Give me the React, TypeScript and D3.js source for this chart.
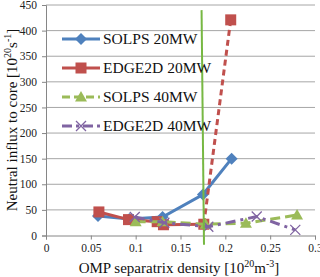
import React, { useEffect, useRef } from "react";
import * as d3 from "d3";

// values
const solps20X = [0.058, 0.093, 0.13, 0.175, 0.207];
const solps20Y = [38, 32, 36, 80, 150];

const edge20X = [0.059, 0.092, 0.124, 0.131, 0.176, 0.206];
const edge20Y = [46, 31, 27, 21, 22, 421];

const solps40X = [0.1, 0.13, 0.178, 0.223, 0.28];
const solps40Y = [27, 27, 22, 24, 40];

const edge40X = [0.099, 0.132, 0.181, 0.235, 0.278];
const edge40Y = [36, 25, 17, 37, 11];

// the vertical marker line (top and bottom ends)
const markerX = [0.1735, 0.1762];
const markerY = [440, -18];

const xTicks = [0, 0.05, 0.1, 0.15, 0.2, 0.25, 0.3];
const yTicks = [0, 50, 100, 150, 200, 250, 300, 350, 400, 450];
const seriesNames = ["SOLPS 20MW", "EDGE2D 20MW", "SOLPS 40MW", "EDGE2D 40MW"];

const FONT = "Liberation Serif";

const App = () => {
  const svgRef = useRef(null);

  useEffect(() => {
    const svg = d3.select(svgRef.current);
    svg.selectAll("*").remove();

    const x = d3.scaleLinear().domain([0, 0.3]).range([46, 315]);
    const y = d3.scaleLinear().domain([0, 450]).range([235.5, 5]);

    // gridlines
    svg.append("g")
      .selectAll("line")
      .data(yTicks.slice(1))
      .enter()
      .append("line")
      .attr("x1", x(0))
      .attr("x2", x(0.3))
      .attr("y1", d => y(d))
      .attr("y2", d => y(d))
      .attr("stroke", "#a6a6a6")
      .attr("stroke-width", 1);

    // axes
    const yAxis = svg.append("g")
      .attr("transform", `translate(${x(0)},0)`)
      .call(d3.axisLeft(y).tickValues(yTicks).tickSize(4).tickPadding(5).tickFormat(d3.format("d")));
    const xAxis = svg.append("g")
      .attr("transform", `translate(0,${y(0)})`)
      .call(d3.axisBottom(x).tickValues(xTicks).tickSize(4).tickPadding(4).tickFormat(d => (d === 0 ? "0" : String(d))));
    [yAxis, xAxis].forEach(a => {
      a.attr("font-family", null).attr("font-size", null);
      a.select(".domain").attr("stroke", "#868686");
      a.selectAll(".tick line").attr("stroke", "#868686");
      a.selectAll("text").style("font-family", FONT).style("font-size", "11.5px").attr("fill", "#222");
    });

    const line = d3.line().x(d => x(d[0])).y(d => y(d[1]));
    const zip = (xs, ys) => xs.map((v, i) => [v, ys[i]]);

    const drawLine = (pts, color, dash) => {
      svg.append("path")
        .datum(pts)
        .attr("fill", "none")
        .attr("stroke", color)
        .attr("stroke-width", 3)
        .attr("stroke-dasharray", dash)
        .attr("d", line);
    };

    const marker = (g, kind, color, cx, cy) => {
      if (kind === "diamond") {
        g.append("path").attr("d", `M${cx},${cy - 6}L${cx + 6},${cy}L${cx},${cy + 6}L${cx - 6},${cy}Z`).attr("fill", color);
      } else if (kind === "square") {
        g.append("rect").attr("x", cx - 5.5).attr("y", cy - 5.5).attr("width", 11).attr("height", 11).attr("fill", color);
      } else if (kind === "triangle") {
        g.append("path").attr("d", `M${cx},${cy - 6}L${cx + 6},${cy + 4.5}L${cx - 6},${cy + 4.5}Z`).attr("fill", color);
      } else {
        g.append("path").attr("d", `M${cx - 5},${cy - 5}L${cx + 5},${cy + 5}M${cx + 5},${cy - 5}L${cx - 5},${cy + 5}`)
          .attr("stroke", color).attr("stroke-width", 1.3).attr("fill", "none");
      }
    };

    const series = [
      { pts: zip(solps20X, solps20Y), color: "#4f81bd", dash: null, kind: "diamond" },
      { pts: zip(edge20X, edge20Y), color: "#c0504d", dash: null, kind: "square", lastDash: "6,4" },
      { pts: zip(solps40X, solps40Y), color: "#9bbb59", dash: "10,5", kind: "triangle" },
      { pts: zip(edge40X, edge40Y), color: "#8064a2", dash: "10,5,3,5", kind: "cross" },
    ];

    series.forEach(s => {
      if (s.lastDash) {
        drawLine(s.pts.slice(0, -1), s.color, s.dash);
        drawLine(s.pts.slice(-2), s.color, s.lastDash);
      } else {
        drawLine(s.pts, s.color, s.dash);
      }
      const g = svg.append("g");
      s.pts.forEach(p => marker(g, s.kind, s.color, x(p[0]), y(p[1])));
    });

    // vertical marker line
    svg.append("line")
      .attr("x1", x(markerX[0]))
      .attr("y1", y(markerY[0]))
      .attr("x2", x(markerX[1]))
      .attr("y2", y(markerY[1]))
      .attr("stroke", "#77b843")
      .attr("stroke-width", 2);

    // legend
    const legend = svg.append("g").attr("transform", "translate(62,39)");
    series.forEach((s, i) => {
      const row = legend.append("g").attr("transform", `translate(0,${i * 29})`);
      row.append("line")
        .attr("x1", 0).attr("x2", 38).attr("y1", 0).attr("y2", 0)
        .attr("stroke", s.color).attr("stroke-width", 3)
        .attr("stroke-dasharray", s.dash ? (i === 3 ? "10,4,3,4" : "8,4") : null);
      marker(row, s.kind, s.color, 19, 0);
      row.append("text")
        .attr("x", 41).attr("y", 5)
        .style("font-family", FONT).style("font-size", "15.5px").attr("fill", "#111")
        .text(seriesNames[i]);
    });

    // axis titles
    const xt = svg.append("text")
      .attr("x", 179).attr("y", 273)
      .attr("text-anchor", "middle")
      .style("font-family", FONT).style("font-size", "15px").attr("fill", "#111");
    xt.append("tspan").text("OMP separatrix density [10");
    xt.append("tspan").attr("dy", -6).style("font-size", "10px").text("20");
    xt.append("tspan").attr("dy", 6).text("m");
    xt.append("tspan").attr("dy", -6).style("font-size", "10px").text("-3");
    xt.append("tspan").attr("dy", 6).text("]");

    const yt = svg.append("text")
      .attr("transform", "translate(17,120) rotate(-90)")
      .attr("text-anchor", "middle")
      .style("font-family", FONT).style("font-size", "15px").attr("fill", "#111");
    yt.append("tspan").text("Neutral influx to core [10");
    yt.append("tspan").attr("dy", -6).style("font-size", "10px").text("20");
    yt.append("tspan").attr("dy", 6).text("s");
    yt.append("tspan").attr("dy", -6).style("font-size", "10px").text("-1");
    yt.append("tspan").attr("dy", 6).text("]");
  }, []);

  return (
    <svg
      ref={svgRef}
      width={320}
      height={277}
      style={{ position: "absolute", left: 0, top: 0, background: "#fff" }}
    ></svg>
  );
};

export default App;
